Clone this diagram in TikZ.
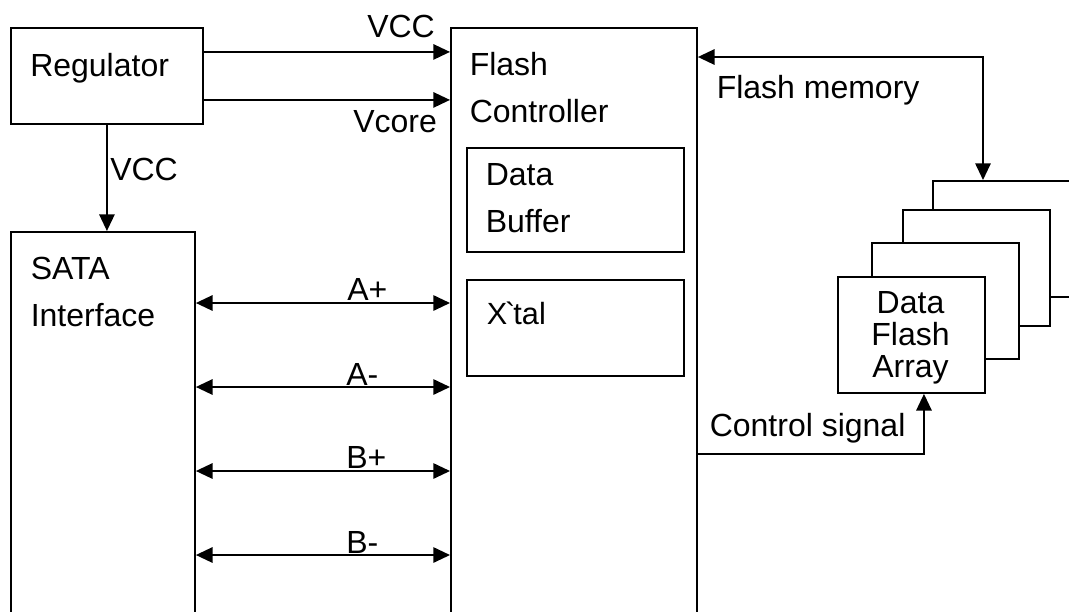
\documentclass[tikz,border=0pt]{standalone}
\usepackage{fontspec}
\setmainfont{Liberation Sans}
\usetikzlibrary{arrows.meta}
\begin{document}
\begin{tikzpicture}[x=0.75pt,y=-0.75pt,
  box/.style={draw,line width=1.4pt,rectangle,inner sep=0pt,anchor=north west,fill=white},
  lbl/.style={inner sep=0pt,anchor=north west,font=\fontsize{24}{35.25}\selectfont,align=left},
  arr/.style={line width=1.4pt,-{Triangle[length=12.5pt,width=11.5pt]}},
  darr/.style={line width=1.4pt,{Triangle[length=12.5pt,width=11.5pt]}-{Triangle[length=12.5pt,width=11.5pt]}}]
\clip (0,0) rectangle (1069,611);
% boxes
\node[box,minimum width=144pt,minimum height=72pt] (reg) at (10,27) {};
\node[box,minimum width=138pt,minimum height=306.75pt] (sata) at (10,231) {};
\node[box,minimum width=184.5pt,minimum height=459.75pt] (ctrl) at (450,27) {};
\node[box,minimum width=162.75pt,minimum height=78pt] (buf) at (466,147) {};
\node[box,minimum width=162.75pt,minimum height=72pt] (xtal) at (466,279) {};
\node[box,minimum width=110.25pt,minimum height=87pt] (arr4) at (932,180) {};
\node[box,minimum width=110.25pt,minimum height=87pt] (arr3) at (902,209) {};
\node[box,minimum width=110.25pt,minimum height=87pt] (arr2) at (871,242) {};
\node[box,minimum width=110.25pt,minimum height=87pt] (arr1) at (837,276) {};
% labels
\node[lbl] (tReg) at (30,53) {Regulator};
\node[lbl] (tSata) at (30.5,257) {SATA\\Interface};
\node[lbl] (tCtrl) at (469.5,52) {Flash\\Controller};
\node[lbl] (tBuf) at (485.5,163) {Data\\Buffer};
\node[lbl,font=\fontsize{23}{28}\selectfont] (tXtal) at (486.5,302) {X\kern-1.5pt\XeTeXglyph\XeTeXcharglyph"60 \kern-1.5pt tal};
\node[lbl,anchor=north,align=center,font=\fontsize{24}{24}\selectfont] (tArr) at (910.5,291) {Data\\Flash\\Array};
\node[lbl] (tVcc1) at (367,15) {VCC};
\node[lbl] (tVcore) at (353,110) {Vcore};
\node[lbl] (tVcc2) at (110,158) {VCC};
\node[lbl] (tAp) at (347,278) {A+};
\node[lbl] (tAm) at (346,363) {A-};
\node[lbl] (tBp) at (346,446) {B+};
\node[lbl] (tBm) at (346,531) {B-};
\node[lbl] (tFm) at (716.5,75) {Flash memory};
\node[lbl] (tCs) at (709.5,413) {Control signal};
% connectors
\draw[arr] ([yshift=18pt]reg.east) -- ([yshift=18pt]reg.east -| ctrl.west);
\draw[arr] ([yshift=-18pt]reg.east) -- ([yshift=-18pt]reg.east -| ctrl.west);
\draw[arr] (reg.south) -- (reg.south |- sata.north);
\draw[darr] (sata.east |- 0,303) -- (ctrl.west |- 0,303);
\draw[darr] (sata.east |- 0,387) -- (ctrl.west |- 0,387);
\draw[darr] (sata.east |- 0,471) -- (ctrl.west |- 0,471);
\draw[darr] (sata.east |- 0,555) -- (ctrl.west |- 0,555);
\draw[darr] ([xshift=38.25pt]arr4.north west) |- (ctrl.east |- 0,57);
\draw[arr] (ctrl.east |- 0,454) -| ([xshift=9.4pt]arr1.south);
\end{tikzpicture}
\end{document}
